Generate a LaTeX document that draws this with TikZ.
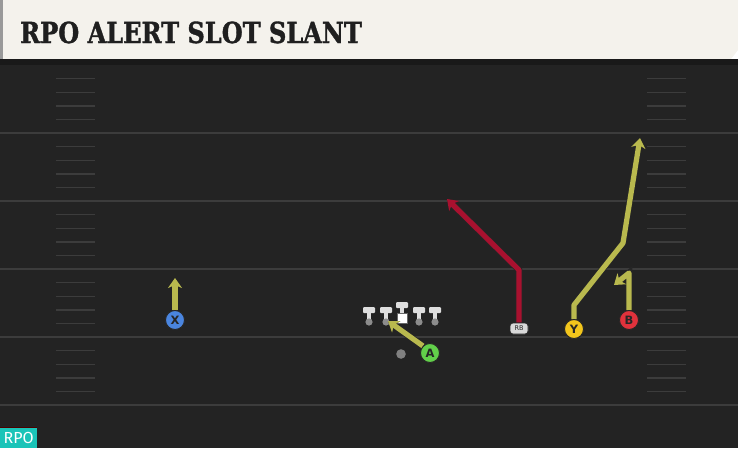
\documentclass[tikz,border=0pt]{standalone}
\usepackage{fontspec}
\usetikzlibrary{arrows.meta}
\newfontfamily\titlefont[FakeStretch=0.83,FakeBold=1.2]{DejaVu Serif}
\newfontfamily\lblfont{DejaVu Sans}
\newfontfamily\badgefont{Fira Sans}
\definecolor{fieldbg}{HTML}{232323}
\definecolor{fieldline}{HTML}{3C3C3C}
\definecolor{headbg}{HTML}{F4F2EC}
\definecolor{routey}{HTML}{B9B94E}
\definecolor{router}{HTML}{A8112F}
\definecolor{xblue}{HTML}{4A85DF}
\definecolor{yyellow}{HTML}{F2C51C}
\definecolor{bred}{HTML}{E0323C}
\definecolor{agreen}{HTML}{62CF4A}
\definecolor{rpoteal}{HTML}{1AC4B8}
\tikzset{
  x=1pt, y=-1pt,
  player/.style={circle, draw=black!85, line width=0.9pt, minimum size=19pt, inner sep=0pt,
    font=\lblfont\bfseries\fontsize{11.5}{11.5}\selectfont, text=black!85},
  rbbox/.style={draw=black!85, line width=0.7pt, fill=black!15, rounded corners=3pt,
    minimum width=18pt, minimum height=11pt, inner sep=0pt,
    font=\lblfont\fontsize{6.5}{6.5}\selectfont, text=black!85},
  yroute/.style={draw=routey, line width=5.2pt, line join=round,
    preaction={draw=black!85, line width=6.6pt},
    -{Stealth[length=10pt,width=14pt,inset=3pt]}},
  rroute/.style={yroute, draw=router},
  yardline/.style={draw=fieldline, line width=2pt},
  hashmark/.style={draw=fieldline, line width=1.4pt},
  lineman/.style={fill=black!13}
}
\begin{document}
\begin{tikzpicture}
\useasboundingbox (0,0) rectangle (738,448);
% field
\fill[fieldbg] (0,59) rectangle (738,448);
% header
\fill[headbg] (0,0) -- (738,0) -- (738,50) -- (731,59) -- (0,59) -- cycle;
\fill[black!40] (0,0) rectangle (3,59);
\fill[black!90] (0,59) rectangle (738,65);
\node[anchor=base west, inner sep=0pt, text=black!88,
  font=\titlefont\bfseries\fontsize{29}{29}\selectfont] (title) at (20,43) {RPO ALERT SLOT SLANT};
% yard lines
\foreach \yy in {133,201,269,337,405} \draw[yardline] (0,\yy) -- (738,\yy);
% hash marks
\foreach \s in {65,133,201,269,337} {
  \foreach \k in {1,...,4} {
    \draw[hashmark] (56,\s+13.6*\k) -- (95,\s+13.6*\k);
    \draw[hashmark] (647,\s+13.6*\k) -- (686,\s+13.6*\k);
  }
}
% offensive line
\foreach \xx in {369,386,419,435} {
  \fill[lineman, rounded corners=1pt] (\xx-6,307) rectangle (\xx+6,313);
  \fill[lineman] (\xx-2.2,312) rectangle (\xx+2.2,321);
  \fill[black!45] (\xx,322) circle (3.6pt);
}
\fill[lineman, rounded corners=1pt] (396,302) rectangle (408,308);
\fill[lineman] (399.8,307) rectangle (404.2,314);
\node[draw=black!60, line width=0.5pt, fill=white, minimum size=10pt, inner sep=0pt] (C) at (402,318.5) {};
% QB
\fill[black!50] (401,354) circle (4.8pt);
\node[inner sep=0pt, minimum size=0pt] (QB) at (401,354) {};
% routes coordinates
\coordinate (Xe) at (175,278);
\coordinate (Ae) at (388,321);
\coordinate (R1) at (519,270);
\coordinate (Re) at (447,199);
\coordinate (Y1) at (574,305);
\coordinate (Y2) at (623,243);
\coordinate (Ye) at (640,138);
\coordinate (B1) at (629,273);
\coordinate (Be) at (614,285);
% players
\node[player, fill=xblue] (X) at (175,320) {X};
\node[player, fill=agreen] (A) at (430,353) {A};
\node[player, fill=yyellow] (Y) at (574,329) {Y};
\node[player, fill=bred] (B) at (629,320) {B};
\node[rbbox] (RB) at (519,328.5) {RB};
% routes
\draw[yroute] (X.north) -- (Xe);
\draw[yroute] (A.north west) -- (Ae);
\draw[rroute] (RB.north) -- (R1) -- (Re);
\draw[yroute] (Y.north) -- (Y1) -- (Y2) -- (Ye);
\draw[yroute] (B.north) -- (B1) -- (Be);
% redraw nodes on top of route starts
\node[player, fill=xblue] at (X) {X};
\node[player, fill=agreen] at (A) {A};
\node[player, fill=yyellow] at (Y) {Y};
\node[player, fill=bred] at (B) {B};
\node[rbbox] at (RB) {RB};
% RPO badge
\draw[draw=red!30!black, line width=0.8pt] (0,427.5) -- (37,427.5);
\node[fill=rpoteal, anchor=south west, minimum width=37pt, minimum height=20pt, inner sep=0pt,
  text=white, font=\badgefont\fontsize{16}{16}\selectfont] (badge) at (0,448) {RPO};
\end{tikzpicture}
\end{document}
